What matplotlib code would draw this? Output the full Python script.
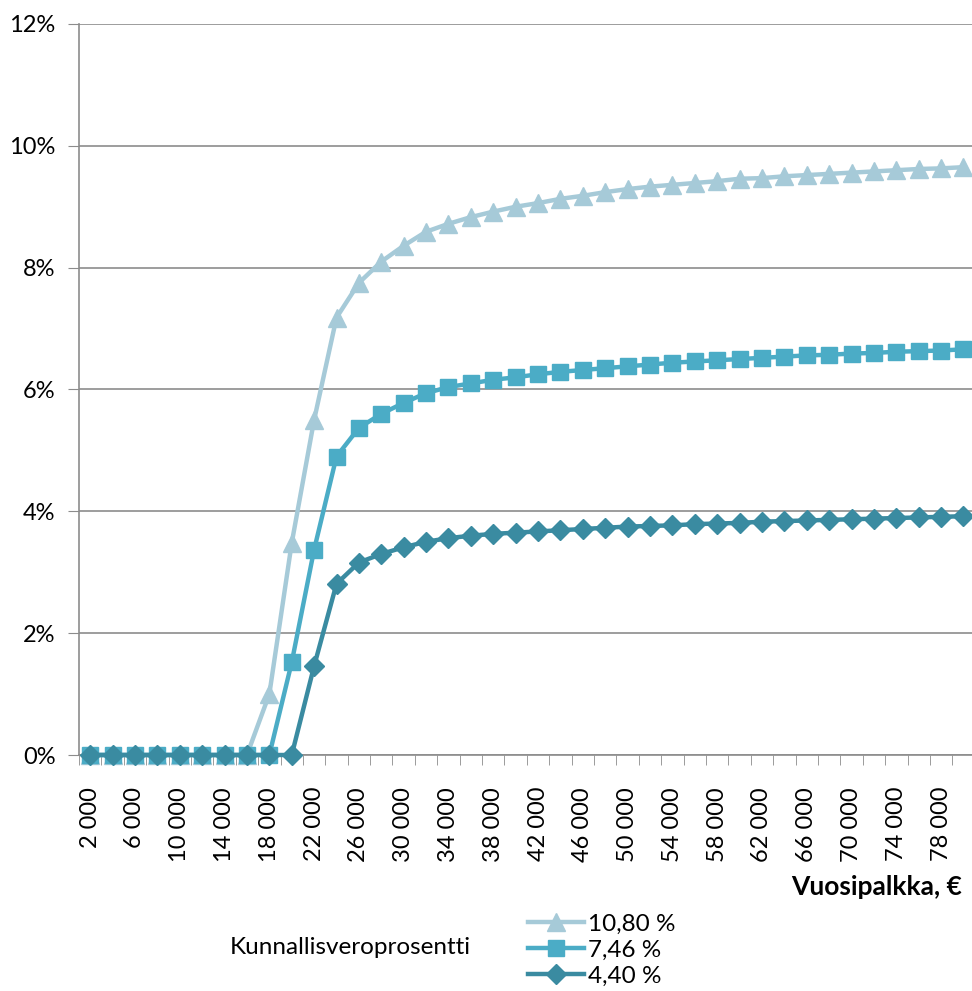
import numpy as np
import matplotlib
matplotlib.use("Agg")
from matplotlib import pyplot as plt
from matplotlib.ticker import FuncFormatter, FixedLocator

#DATA=========
salary = list(range(2000, 80001, 2000))
series_labels = ["10,80 %", "7,46 %", "4,40 %"]

rate_1080 = [0, 0, 0, 0, 0, 0, 0, 0, 1.0, 3.48, 5.5, 7.18, 7.75, 8.1, 8.36, 8.59, 8.72, 8.83,
             8.92, 9.0, 9.06, 9.13, 9.18, 9.24, 9.29, 9.33, 9.36, 9.39, 9.42, 9.46, 9.47, 9.5,
             9.52, 9.54, 9.56, 9.58, 9.6, 9.62, 9.63, 9.65]
rate_746 = [0, 0, 0, 0, 0, 0, 0, 0, 0, 1.52, 3.37, 4.9, 5.37, 5.6, 5.78, 5.94, 6.04, 6.1,
            6.16, 6.2, 6.25, 6.29, 6.32, 6.35, 6.38, 6.41, 6.44, 6.46, 6.48, 6.5, 6.52, 6.54,
            6.56, 6.57, 6.59, 6.6, 6.62, 6.63, 6.64, 6.66]
rate_440 = [0, 0, 0, 0, 0, 0, 0, 0, 0, 0, 1.46, 2.81, 3.16, 3.3, 3.41, 3.5, 3.56, 3.6,
            3.63, 3.65, 3.67, 3.69, 3.71, 3.73, 3.75, 3.76, 3.77, 3.79, 3.8, 3.81, 3.83, 3.84,
            3.85, 3.86, 3.87, 3.88, 3.89, 3.9, 3.91, 3.92]
#=============

plt.rcParams['font.family'] = ['Lato', 'DejaVu Sans']

fig = plt.figure(figsize=(9.72, 9.91), dpi=100)
ax = fig.add_axes([79 / 972, 1 - 755 / 991, (972 - 79) / 972 * 1.003, (755 - 24) / 991])

x = np.arange(len(salary))
styles = [
    (rate_1080, '#A6CAD8', '^', 13),
    (rate_746, '#4BACC6', 's', 12),
    (rate_440, '#3A8BA1', 'D', 10),
]
for (vals, col, mk, ms), lab in zip(styles, series_labels):
    ax.plot(x, np.array(vals) / 100, color=col, lw=3.2, marker=mk, ms=ms,
            mec=col, mfc=col, label=lab, clip_on=False, zorder=3)

ax.set_xlim(-0.5, len(salary) - 0.5)
ax.set_ylim(0, 0.12)
ax.set_yticks(np.arange(0, 0.121, 0.02))
ax.yaxis.set_major_formatter(FuncFormatter(lambda v, p: f"{v * 100:.0f}%"))
ax.grid(axis='y', color='#8c8c8c', lw=1.2)
ax.set_axisbelow(True)

# category labels every other point, tick marks between categories
ax.set_xticks(x[::2])
ax.set_xticklabels([f"{s:,}".replace(",", " ") for s in salary[::2]], rotation=90,
                   va='top', ha='center', fontsize=17)
ax.xaxis.set_minor_locator(FixedLocator(np.arange(-0.5, len(salary), 1)))
ax.tick_params(axis='x', which='major', length=0, pad=23)
ax.tick_params(axis='x', which='minor', length=7, color='#8c8c8c')
ax.tick_params(axis='y', length=8, color='#8c8c8c', labelsize=17, pad=9)

for side in ['top', 'right']:
    ax.spines[side].set_visible(False)
for side in ['left', 'bottom']:
    ax.spines[side].set_color('#8c8c8c')
    ax.spines[side].set_linewidth(1.2)

fig.text(962 / 972, 1 - 887 / 991, "Vuosipalkka, €", ha='right', va='center',
         fontsize=19, fontweight='bold')
fig.text(350 / 972, 1 - 947 / 991, "Kunnallisveroprosentti", ha='center', va='center',
         fontsize=17.5)

handles, labels = ax.get_legend_handles_labels()
fig.legend(handles, labels, loc='center left', bbox_to_anchor=(528 / 972, 1 - 950 / 991),
           frameon=False, fontsize=17.5, handlelength=2.3, handletextpad=0.15,
           labelspacing=0.2, borderaxespad=0, borderpad=0)

fig.savefig("out.png", dpi=100)
